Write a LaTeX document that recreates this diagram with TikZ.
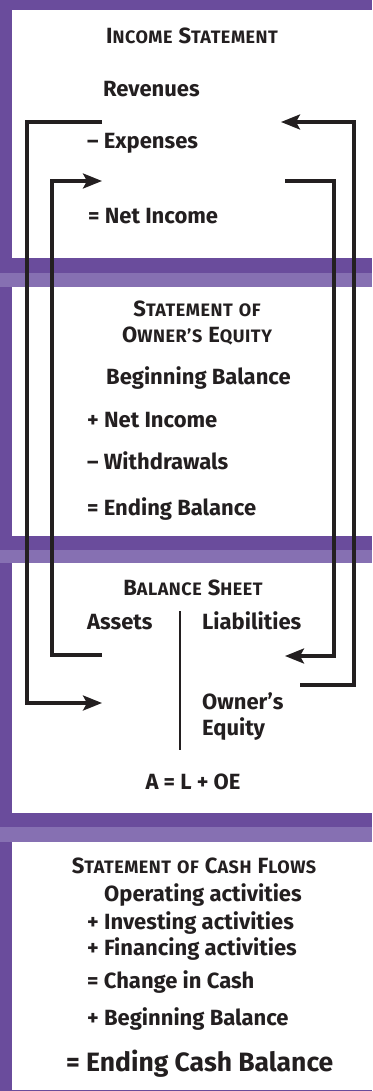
\documentclass[tikz,border=0pt]{standalone}
\usepackage{fontspec}
\setmainfont{Fira Sans}
\usetikzlibrary{arrows.meta}

\definecolor{zi}{HTML}{6A4C9C}
\definecolor{zil}{HTML}{8670B2}
\definecolor{mo}{HTML}{231F20}

% 小型大写字母
\newcommand{\hsc}[2]{{\fontsize{22}{26}\selectfont #1}{\fontsize{18}{22}\selectfont\addfontfeature{LetterSpace=3} #2}}
\newcommand{\hsp}{\hspace{6pt}}

\begin{document}
\begin{tikzpicture}[x=1pt,y=-1pt,
  txt/.style={anchor=base west,inner sep=0pt,text=mo,font=\bfseries\fontsize{22}{26}\selectfont},
  big/.style={txt,font=\bfseries\fontsize{26.5}{32}\selectfont},
  hd/.style={anchor=base,inner sep=0pt,text=mo,font=\bfseries},
  lnk/.style={draw=mo,line width=3.2pt},
  jt/.style={-{Stealth[length=19pt,width=15pt,inset=4pt]}}]
\useasboundingbox (0,0) rectangle (372,1091);

% 背景与面板
\fill[zi] (0,0) rectangle (372,1091);
\foreach \ya/\yb in {273/287,550/563,827/842}
  \fill[zil] (0,\ya) rectangle (372,\yb);
\foreach \ya/\yb in {10/258,287/536,563/813,842/1090}
  \fill[white] (12,\ya) rectangle (372,\yb);

% 损益表
\node[hd] (ish) at (192,44) {\hsc{I}{NCOME}\hsp\hsc{S}{TATEMENT}};
\node[txt] (rev) at (103,96.7) {Revenues};
\node[txt] (exp) at (87,149) {– Expenses};
\node[txt] (ni) at (88,224) {= Net Income};

% 所有者权益表
\node[hd] (oeh1) at (197,316.7) {\hsc{S}{TATEMENT}\hsp\hsc{}{OF}};
\node[hd] (oeh2) at (197,342.7) {\hsc{O}{WNER’S}\hsp\hsc{E}{QUITY}};
\node[txt] (bb) at (106,384) {Beginning Balance};
\node[txt] (pni) at (87,427) {+ Net Income};
\node[txt] (wd) at (87,469) {– Withdrawals};
\node[txt] (eb) at (87,515.7) {= Ending Balance};

% 资产负债表
\node[hd] (bsh) at (193,595) {\hsc{B}{ALANCE}\hsp\hsc{S}{HEET}};
\node[txt] (as) at (87,629) {Assets};
\node[txt] (li) at (202,629) {Liabilities};
\node[txt] (ow) at (202,709) {Owner’s};
\node[txt] (eq) at (202,735.7) {Equity};
\node[hd,font=\bfseries\fontsize{22}{26}\selectfont] (ale) at (193,789) {A = L + OE};
\draw[mo,line width=2.5pt] (180,611) -- (180,750);

% 现金流量表
\node[hd] (cfh) at (194,873) {\hsc{S}{TATEMENT}\hsp\hsc{}{OF}\hsp\hsc{C}{ASH}\hsp\hsc{F}{LOWS}};
\node[txt] (op) at (104,901.7) {Operating activities};
\node[txt] (inv) at (87,929) {+ Investing activities};
\node[txt] (fin) at (87,955.7) {+ Financing activities};
\node[txt] (cc) at (87,988) {= Change in Cash};
\node[txt] (cbb) at (87,1025) {+ Beginning Balance};
\node[big] (ecb) at (66,1071) {= Ending Cash Balance};

% 连线端点
\coordinate (is1) at (102,122);
\coordinate (is2) at (102,181);
\coordinate (is3) at (285,181);
\coordinate (is4) at (281,122);
\coordinate (bs1) at (102,703);
\coordinate (bs2) at (102,655);
\coordinate (bs3) at (285,656);
\coordinate (bs4) at (300,685);

% 连线
\draw[lnk,jt] (is1) -- ++(-75,0) |- (bs1);
\draw[lnk,jt] (bs2) -- ++(-50,0) |- (is2);
\draw[lnk,jt] (is3) -- ++(49,0) |- (bs3);
\draw[lnk,jt] (bs4) -- ++(54,0) |- (is4);

\end{tikzpicture}
\end{document}
